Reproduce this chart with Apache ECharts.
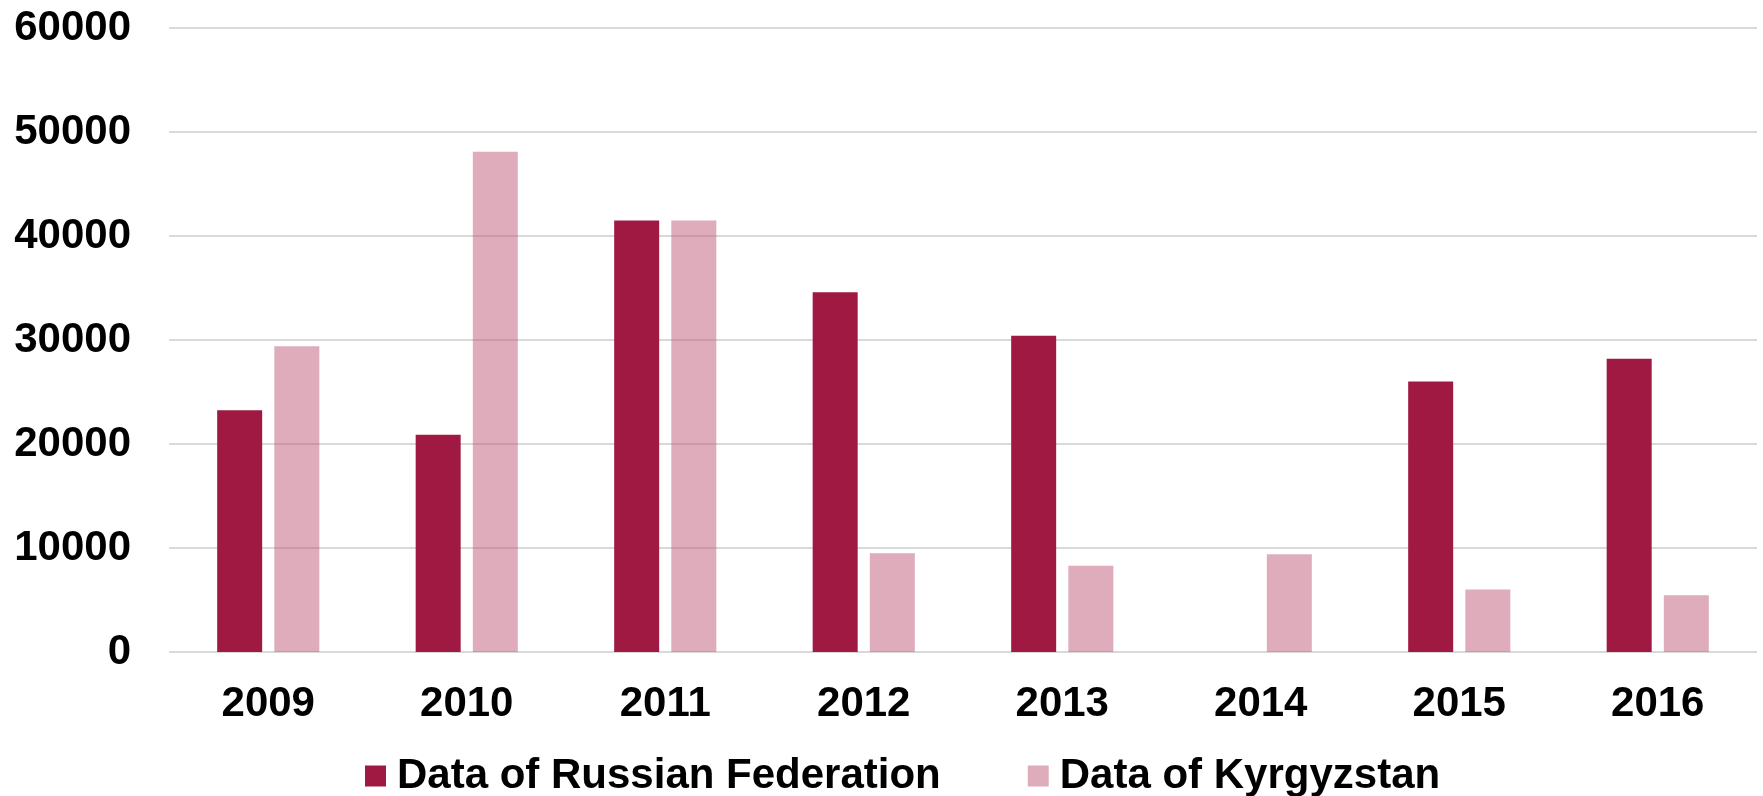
<!DOCTYPE html>
<html>
<head>
<meta charset="utf-8">
<script src="https://cdn.jsdelivr.net/npm/echarts@6/dist/echarts.min.js"></script>
<style>
html,body{margin:0;padding:0;background:#fff;}
#chart{width:1763px;height:796px;}
</style>
</head>
<body>
<div id="chart"></div>
<script>
const years = ['2009','2010','2011','2012','2013','2014','2015','2016'];
const russia = [23250, 20900, 41500, 34600, 30400, null, 26000, 28200];
const kyrgyzstan = [29400, 48100, 41500, 9500, 8300, 9400, 6000, 5450];
const seriesNames = ['Data of Russian Federation', 'Data of Kyrgyzstan'];

const FONT = '"Liberation Sans", Arial, sans-serif';
const chart = echarts.init(document.getElementById('chart'));
chart.setOption({
  animation: false,
  backgroundColor: '#ffffff',
  grid: { left: 169, right: 6, top: 28, bottom: 144, containLabel: false },
  legend: {
    data: seriesNames,
    left: 360,
    top: 750,
    itemWidth: 21,
    itemHeight: 21,
    itemGap: 87,
    icon: 'rect',
    textStyle: { fontFamily: FONT, fontWeight: 'bold', fontSize: 42, color: '#000', padding: [0,0,0,6] }
  },
  xAxis: {
    type: 'category',
    data: years,
    axisLine: { show: false },
    axisTick: { show: false },
    axisLabel: { fontFamily: FONT, fontWeight: 'bold', fontSize: 42, color: '#000', margin: 31 }
  },
  yAxis: {
    type: 'value',
    min: 0,
    max: 60000,
    interval: 10000,
    axisLine: { show: false },
    axisTick: { show: false },
    axisLabel: { fontFamily: FONT, fontWeight: 'bold', fontSize: 42, color: '#000', margin: 38,
      formatter: function (v) { return String(v); } },
    splitLine: { lineStyle: { color: '#d9d9d9', width: 2 } }
  },
  series: [
    {
      name: seriesNames[0],
      type: 'bar',
      data: russia,
      barWidth: 45,
      barGap: '27%',
      itemStyle: { color: '#A01942' }
    },
    {
      name: seriesNames[1],
      type: 'bar',
      data: kyrgyzstan,
      barWidth: 45,
      barGap: '27%',
      itemStyle: { color: 'rgba(190,90,120,0.5)' }
    }
  ]
});
</script>
</body>
</html>
